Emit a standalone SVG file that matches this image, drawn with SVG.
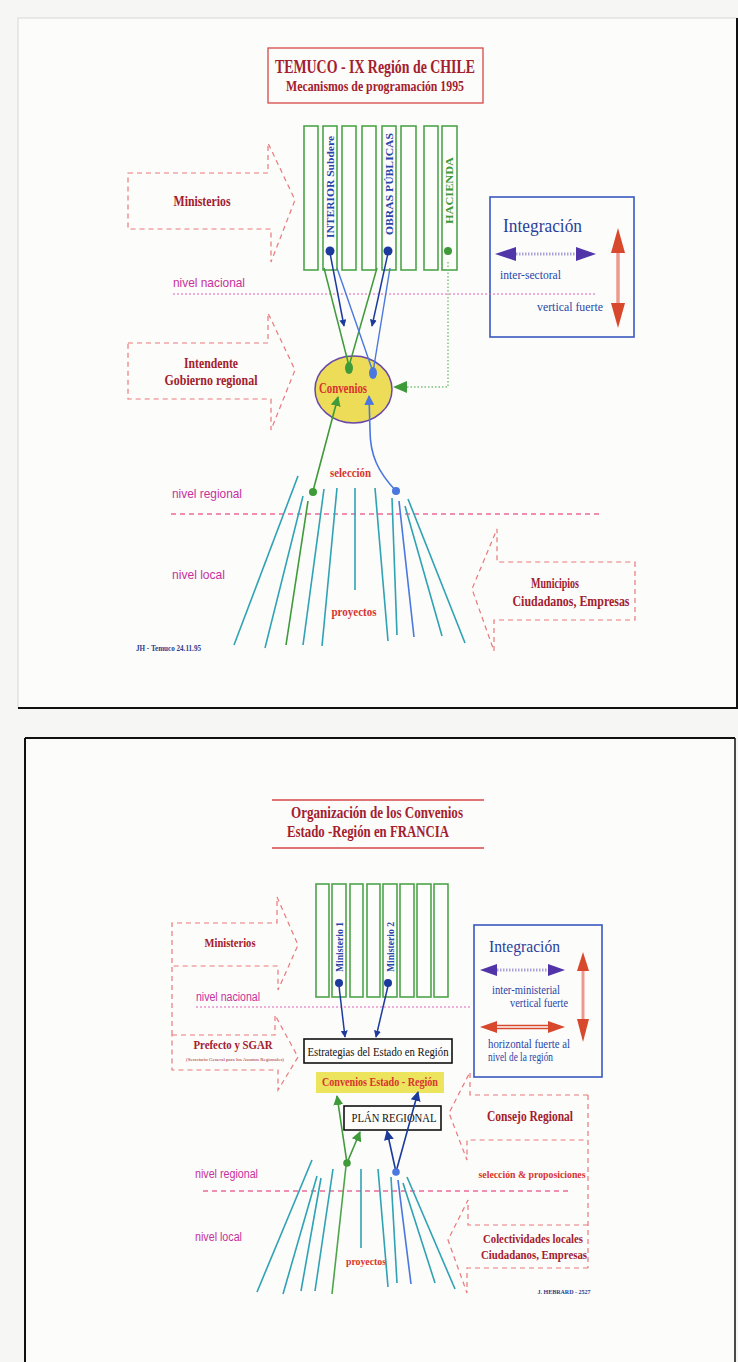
<svg xmlns="http://www.w3.org/2000/svg" width="738" height="1362" viewBox="0 0 738 1362">
<defs>
<style>
.serifb{font-family:"Liberation Serif","Times New Roman",serif;font-weight:bold}
.serif{font-family:"Liberation Serif","Times New Roman",serif}
.sans{font-family:"Liberation Sans",Arial,sans-serif}
.dred{fill:#a3202e}
.red{fill:#d8342e}
.mag{fill:#c8309c}
.blue{fill:#2846a8}
.col{fill:#fdfdfc;stroke:#4ea44a;stroke-width:1.6}
.dash{fill:none;stroke:#e9787a;stroke-width:1.2;stroke-dasharray:5 4}
.teal{stroke:#2fa2b4;stroke-width:1.6;fill:none}
.magline{stroke:#e060b8;stroke-width:1.2;stroke-dasharray:2 2;fill:none}
.pinkdash{stroke:#ec6a9a;stroke-width:1.3;stroke-dasharray:5 4;fill:none}
</style>
<marker id="agreen" viewBox="0 0 10 10" refX="9" refY="5" markerWidth="7" markerHeight="7" orient="auto" markerUnits="userSpaceOnUse"><path d="M0,0 L10,5 L0,10 Z" fill="#3f9a3a"/></marker>
<marker id="ablue" viewBox="0 0 10 10" refX="9" refY="5" markerWidth="10" markerHeight="10" orient="auto" markerUnits="userSpaceOnUse"><path d="M0,0 L10,5 L0,10 Z" fill="#4a78e0"/></marker>
<marker id="anavy" viewBox="0 0 10 10" refX="9" refY="5" markerWidth="7" markerHeight="7" orient="auto" markerUnits="userSpaceOnUse"><path d="M0,0 L10,5 L0,10 Z" fill="#1c3a9c"/></marker>
<marker id="agreenL" viewBox="0 0 10 10" refX="9" refY="5" markerWidth="10" markerHeight="12" orient="auto" markerUnits="userSpaceOnUse"><path d="M0,0 L10,5 L0,10 Z" fill="#3f9a3a"/></marker>
<marker id="anavyL" viewBox="0 0 10 10" refX="9" refY="5" markerWidth="10" markerHeight="12" orient="auto" markerUnits="userSpaceOnUse"><path d="M0,0 L10,5 L0,10 Z" fill="#1c3a9c"/></marker>
</defs>

<rect x="0" y="0" width="738" height="1362" fill="#f6f6f4"/>

<g id="page1">
<rect x="18" y="18" width="719" height="690" fill="#fcfcfb" stroke="#d8d8d8" stroke-width="1"/>
<line x1="18" y1="708" x2="738" y2="708" stroke="#111" stroke-width="2"/>
<line x1="737" y1="18" x2="737" y2="708" stroke="#111" stroke-width="2"/>
</g>

<g id="page2">
<rect x="25" y="738" width="710" height="640" fill="#fcfcfb"/>
<line x1="25" y1="738" x2="735" y2="738" stroke="#111" stroke-width="2"/>
<line x1="25" y1="738" x2="25" y2="1362" stroke="#111" stroke-width="2"/>
<line x1="735" y1="738" x2="735" y2="1362" stroke="#111" stroke-width="1.5"/>
</g>

<!-- ===================== TOP PANEL ===================== -->
<g id="title1">
<rect x="268" y="48" width="215" height="55" fill="none" stroke="#d84848" stroke-width="1.3"/>
<text x="375" y="73" text-anchor="middle" class="serifb dred" font-size="18" textLength="200" lengthAdjust="spacingAndGlyphs">TEMUCO - IX Región de CHILE</text>
<text x="375" y="91" text-anchor="middle" class="serifb dred" font-size="14.5" textLength="178" lengthAdjust="spacingAndGlyphs">Mecanismos de programación 1995</text>
</g>

<g id="columns1">
<rect class="col" x="304" y="126" width="14" height="144"/>
<rect class="col" x="323" y="126" width="14" height="144"/>
<rect class="col" x="342" y="126" width="14" height="144"/>
<rect class="col" x="362" y="126" width="14" height="144"/>
<rect class="col" x="382" y="126" width="14" height="144"/>
<rect class="col" x="401" y="126" width="15" height="144"/>
<rect class="col" x="424" y="126" width="14" height="144"/>
<rect class="col" x="442" y="126" width="15" height="144"/>
<text transform="translate(334,238) rotate(-90)" class="serifb blue" font-size="10.5" textLength="102" lengthAdjust="spacingAndGlyphs">INTERIOR Subdere</text>
<text transform="translate(393,235) rotate(-90)" class="serifb blue" font-size="10.5" textLength="102" lengthAdjust="spacingAndGlyphs">OBRAS PÚBLICAS</text>
<text transform="translate(453,224) rotate(-90)" class="serifb" fill="#3f9a3a" font-size="10.5" textLength="67" lengthAdjust="spacingAndGlyphs">HACIENDA</text>
<circle cx="330" cy="251" r="4.5" fill="#1c3a9c"/>
<circle cx="388" cy="251" r="4.5" fill="#1c3a9c"/>
<circle cx="448" cy="251" r="4" fill="#3f9a3a"/>
</g>

<g id="integracion1">
<rect x="490" y="197" width="144" height="140" fill="none" stroke="#3a58c0" stroke-width="1.6"/>
<text x="503" y="232" class="serif" fill="#2a3f9a" font-size="19" textLength="79" lengthAdjust="spacingAndGlyphs">Integración</text>
<line x1="516" y1="254" x2="576" y2="254" stroke="#a9a2d8" stroke-width="3" stroke-dasharray="1.5 1.5"/>
<path d="M495,254 L516,247 L516,261 Z" fill="#5034a8"/>
<path d="M596,254 L576,247 L576,261 Z" fill="#5034a8"/>
<text x="500" y="279" class="serif" fill="#2a46a8" font-size="13" textLength="61" lengthAdjust="spacingAndGlyphs">inter-sectoral</text>
<text x="537" y="311" class="serif" fill="#2a46a8" font-size="13" textLength="66" lengthAdjust="spacingAndGlyphs">vertical fuerte</text>
<line x1="618" y1="252" x2="618" y2="304" stroke="#ec9a90" stroke-width="3.5"/>
<path d="M618,228 L611,253 L625,253 Z" fill="#d8482c"/>
<path d="M618,328 L611,303 L625,303 Z" fill="#d8482c"/>
</g>

<g id="ministerios1">
<path class="dash" d="M128,173 H268 V143 L295,200 L271,262 V229 H128 Z"/>
<text x="202" y="206" text-anchor="middle" class="serifb dred" font-size="14.5" textLength="57" lengthAdjust="spacingAndGlyphs">Ministerios</text>
</g>

<g id="intendente1">
<path class="dash" d="M128,343 H268 V313 L295,370 L271,430 V399 H128 Z"/>
<text x="211" y="368" text-anchor="middle" class="serifb dred" font-size="14.5" textLength="54" lengthAdjust="spacingAndGlyphs">Intendente</text>
<text x="211" y="385" text-anchor="middle" class="serifb dred" font-size="14.5" textLength="93" lengthAdjust="spacingAndGlyphs">Gobierno regional</text>
</g>

<g id="niveles1">
<text x="173" y="287" class="sans mag" font-size="13" textLength="72" lengthAdjust="spacingAndGlyphs">nivel nacional</text>
<line class="magline" x1="173" y1="294" x2="596" y2="294"/>
<text x="172" y="498" class="sans mag" font-size="13" textLength="70" lengthAdjust="spacingAndGlyphs">nivel regional</text>
<line class="pinkdash" x1="171" y1="514" x2="599" y2="514"/>
<text x="172" y="579" class="sans mag" font-size="13" textLength="53" lengthAdjust="spacingAndGlyphs">nivel local</text>
</g>

<g id="convenios1">
<ellipse cx="353.5" cy="389.5" rx="38.5" ry="33.5" fill="#ecdc58" stroke="#6848a8" stroke-width="1.5"/>
<text x="343" y="393" text-anchor="middle" class="serifb red" font-size="14" textLength="48" lengthAdjust="spacingAndGlyphs">Convenios</text>
</g>

<g id="municipios1">
<path class="dash" d="M635,562 V620 H494 V651 L472,589 L497,529 V562 Z"/>
<text x="555" y="588" text-anchor="middle" class="serifb dred" font-size="15" textLength="48" lengthAdjust="spacingAndGlyphs">Municipios</text>
<text x="571" y="606" text-anchor="middle" class="serifb dred" font-size="15" textLength="117" lengthAdjust="spacingAndGlyphs">Ciudadanos, Empresas</text>
</g>

<g id="labels1">
<text x="350.5" y="477" text-anchor="middle" class="serifb red" font-size="13" textLength="41" lengthAdjust="spacingAndGlyphs">selección</text>
<text x="354" y="616" text-anchor="middle" class="serifb red" font-size="13" textLength="45" lengthAdjust="spacingAndGlyphs">proyectos</text>
<text x="136" y="651" class="serifb" fill="#283c90" font-size="7.5" textLength="65" lengthAdjust="spacingAndGlyphs">JH - Temuco 24.11.95</text>
</g>

<g id="connectors1">
<line x1="324" y1="268" x2="349" y2="366" stroke="#3f9a3a" stroke-width="1.5"/>
<line x1="377" y1="268" x2="349" y2="366" stroke="#3f9a3a" stroke-width="1.5"/>
<line x1="337" y1="268" x2="373" y2="372" stroke="#4a78e0" stroke-width="1.4"/>
<line x1="390" y1="268" x2="373" y2="372" stroke="#4a78e0" stroke-width="1.4"/>
<line x1="330" y1="253" x2="344" y2="326" stroke="#1c3a9c" stroke-width="1.5" marker-end="url(#anavy)"/>
<line x1="388" y1="253" x2="372" y2="326" stroke="#1c3a9c" stroke-width="1.5" marker-end="url(#anavy)"/>
<ellipse cx="349" cy="368" rx="4" ry="6" fill="#3f9a3a"/>
<ellipse cx="373" cy="373" rx="4" ry="6" fill="#4a78e0"/>
<path d="M448,262 V387 H405" fill="none" stroke="#7ac07a" stroke-width="1.4" stroke-dasharray="1.5 2"/>
<path d="M393,387 L407,381 L407,393 Z" fill="#3f9a3a"/>
<line x1="313" y1="491" x2="338" y2="397" stroke="#3f9a3a" stroke-width="1.6" marker-end="url(#agreenL)"/>
<path d="M396,491 C378,472 370,455 370,430 L369,396" fill="none" stroke="#4a78e0" stroke-width="1.6" marker-end="url(#ablue)"/>
<line class="teal" x1="298" y1="476" x2="234" y2="645"/>
<line class="teal" x1="303" y1="496" x2="265" y2="648"/>
<line x1="308" y1="501" x2="286" y2="645" stroke="#3f9a3a" stroke-width="1.6"/>
<line class="teal" x1="324" y1="489" x2="303" y2="645"/>
<line class="teal" x1="337" y1="488" x2="322" y2="646"/>
<line class="teal" x1="355" y1="488" x2="355" y2="590"/>
<line class="teal" x1="375" y1="488" x2="388" y2="641"/>
<line class="teal" x1="392" y1="498" x2="397" y2="635"/>
<line x1="399" y1="501" x2="414" y2="637" stroke="#4a78e0" stroke-width="1.6"/>
<line class="teal" x1="405" y1="506" x2="442" y2="636"/>
<line class="teal" x1="408" y1="499" x2="465" y2="643"/>
<circle cx="313" cy="492" r="4" fill="#3f9a3a"/>
<circle cx="396" cy="491" r="4" fill="#4a78e0"/>
</g>

<!-- ===================== BOTTOM PANEL ===================== -->
<g id="title2">
<line x1="272" y1="800" x2="484" y2="800" stroke="#d84848" stroke-width="1.3"/>
<line x1="272" y1="848" x2="484" y2="848" stroke="#d84848" stroke-width="1.3"/>
<text x="377" y="818" text-anchor="middle" class="serifb dred" font-size="16.5" textLength="172" lengthAdjust="spacingAndGlyphs">Organización de los Convenios</text>
<text x="368" y="837" text-anchor="middle" class="serifb dred" font-size="16.5" textLength="162" lengthAdjust="spacingAndGlyphs">Estado -Región en FRANCIA</text>
</g>

<g id="columns2">
<rect class="col" x="316" y="884" width="13" height="113"/>
<rect class="col" x="332" y="884" width="14" height="113"/>
<rect class="col" x="350" y="884" width="13" height="113"/>
<rect class="col" x="367" y="884" width="13" height="113"/>
<rect class="col" x="383" y="884" width="14" height="113"/>
<rect class="col" x="400" y="884" width="14" height="113"/>
<rect class="col" x="417" y="884" width="14" height="113"/>
<rect class="col" x="434" y="884" width="14" height="113"/>
<text transform="translate(342.5,972) rotate(-90)" class="serifb blue" font-size="9.5" textLength="50" lengthAdjust="spacingAndGlyphs">Ministerio 1</text>
<text transform="translate(393.5,972) rotate(-90)" class="serifb blue" font-size="9.5" textLength="50" lengthAdjust="spacingAndGlyphs">Ministerio 2</text>
<circle cx="339" cy="983" r="4" fill="#1c3a9c"/>
<circle cx="388" cy="983" r="4" fill="#1c3a9c"/>
</g>

<g id="integracion2">
<rect x="474" y="925" width="128" height="152" fill="none" stroke="#3a58c0" stroke-width="1.6"/>
<text x="489" y="952" class="serif" fill="#2a3f9a" font-size="17" textLength="71" lengthAdjust="spacingAndGlyphs">Integración</text>
<line x1="497" y1="970" x2="548" y2="970" stroke="#a9a2d8" stroke-width="3" stroke-dasharray="1.5 1.5"/>
<path d="M480,970 L497,964 L497,976 Z" fill="#5034a8"/>
<path d="M565,970 L548,964 L548,976 Z" fill="#5034a8"/>
<text x="492" y="994" class="serif" fill="#2a46a8" font-size="12" textLength="68" lengthAdjust="spacingAndGlyphs">inter-ministerial</text>
<text x="510" y="1007" class="serif" fill="#2a46a8" font-size="12" textLength="58" lengthAdjust="spacingAndGlyphs">vertical fuerte</text>
<line x1="496" y1="1025.5" x2="549" y2="1025.5" stroke="#d8482c" stroke-width="1.3"/>
<line x1="496" y1="1028.5" x2="549" y2="1028.5" stroke="#d8482c" stroke-width="1.3"/>
<path d="M480,1027 L497,1021 L497,1033 Z" fill="#d8482c"/>
<path d="M565,1027 L548,1021 L548,1033 Z" fill="#d8482c"/>
<text x="488" y="1048" class="serif" fill="#2a46a8" font-size="12" textLength="82" lengthAdjust="spacingAndGlyphs">horizontal fuerte al</text>
<text x="488" y="1061" class="serif" fill="#2a46a8" font-size="12" textLength="65" lengthAdjust="spacingAndGlyphs">nivel de la región</text>
<line x1="583" y1="968" x2="583" y2="1022" stroke="#ec9a90" stroke-width="3"/>
<path d="M583,952 L577,971 L589,971 Z" fill="#d8482c"/>
<path d="M583,1042 L577,1019 L589,1019 Z" fill="#d8482c"/>
</g>

<g id="ministerios2">
<path class="dash" d="M172,1035 V923 H277 V897 L298,945 L278,990 V966 H172"/>
<text x="230" y="947" text-anchor="middle" class="serifb dred" font-size="13.5" textLength="51" lengthAdjust="spacingAndGlyphs">Ministerios</text>
</g>

<g id="prefecto2">
<path class="dash" d="M172,1035 H275 V1015 L298,1057 L278,1090 V1070 H172 V1035"/>
<text x="233" y="1049" text-anchor="middle" class="serifb dred" font-size="13.5" textLength="79" lengthAdjust="spacingAndGlyphs">Prefecto y SGAR</text>
<text x="235" y="1061" text-anchor="middle" class="serif dred" font-size="4.5" textLength="98" lengthAdjust="spacingAndGlyphs">(Secretario General para los Asuntos Regionales)</text>
</g>

<g id="niveles2">
<text x="196" y="1001" class="sans mag" font-size="12" textLength="64" lengthAdjust="spacingAndGlyphs">nivel nacional</text>
<line class="magline" x1="196" y1="1007" x2="470" y2="1007"/>
<text x="195" y="1178" class="sans mag" font-size="12" textLength="63" lengthAdjust="spacingAndGlyphs">nivel regional</text>
<line class="pinkdash" x1="203" y1="1191" x2="570" y2="1191"/>
<text x="195" y="1241" class="sans mag" font-size="12" textLength="47" lengthAdjust="spacingAndGlyphs">nivel local</text>
</g>

<g id="estrategias2">
<rect x="304" y="1039" width="148" height="24" fill="#fdfdfc" stroke="#111" stroke-width="1.6"/>
<text x="378" y="1056" text-anchor="middle" class="serif" fill="#111" font-size="13" textLength="141" lengthAdjust="spacingAndGlyphs">Estrategias del Estado en Región</text>
</g>

<g id="convenios2">
<rect x="316" y="1072" width="128" height="21" fill="#ece45c"/>
<text x="380" y="1086" text-anchor="middle" class="serifb red" font-size="11.5" textLength="116" lengthAdjust="spacingAndGlyphs">Convenios  Estado  - Región</text>
</g>

<g id="plan2">
<rect x="344" y="1106" width="97" height="24" fill="#fdfdfc" stroke="#111" stroke-width="1.6"/>
<text x="394" y="1122" text-anchor="middle" class="serif" fill="#111" font-size="13" textLength="85" lengthAdjust="spacingAndGlyphs">PLÁN REGIONAL</text>
</g>

<g id="consejo2">
<path class="dash" d="M588,1095 H470 V1072 L449,1113 L467,1160 V1140 H588"/>
<path class="dash" d="M588,1095 V1268"/>
<text x="530" y="1121" text-anchor="middle" class="serifb dred" font-size="14" textLength="86" lengthAdjust="spacingAndGlyphs">Consejo Regional</text>
<text x="532" y="1178" text-anchor="middle" class="serifb red" font-size="10.5" textLength="107" lengthAdjust="spacingAndGlyphs">selección &amp; proposiciones</text>
</g>

<g id="colectividades2">
<path class="dash" d="M588,1225 H468 V1200 L448,1240 L467,1293 V1268 H588"/>
<text x="533" y="1243" text-anchor="middle" class="serifb dred" font-size="13.5" textLength="100" lengthAdjust="spacingAndGlyphs">Colectividades locales</text>
<text x="534" y="1259" text-anchor="middle" class="serifb dred" font-size="13.5" textLength="106" lengthAdjust="spacingAndGlyphs">Ciudadanos, Empresas</text>
</g>

<g id="labels2">
<text x="366" y="1265" text-anchor="middle" class="serifb red" font-size="11" textLength="40" lengthAdjust="spacingAndGlyphs">proyectos</text>
<text x="564" y="1294" text-anchor="middle" class="serifb" fill="#283c90" font-size="6.5" textLength="53" lengthAdjust="spacingAndGlyphs">J. HEBRARD - 2527</text>
</g>

<g id="connectors2">
<line x1="339" y1="986" x2="345" y2="1037" stroke="#1c3a9c" stroke-width="1.5" marker-end="url(#anavy)"/>
<line x1="388" y1="986" x2="376" y2="1037" stroke="#1c3a9c" stroke-width="1.5" marker-end="url(#anavy)"/>
<line x1="347" y1="1163" x2="337" y2="1096" stroke="#3f9a3a" stroke-width="1.6" marker-end="url(#agreenL)"/>
<line x1="347" y1="1163" x2="360" y2="1132" stroke="#3f9a3a" stroke-width="1.6" marker-end="url(#agreenL)"/>
<line x1="396" y1="1172" x2="387" y2="1131" stroke="#1c3a9c" stroke-width="1.6" marker-end="url(#anavyL)"/>
<line x1="396" y1="1172" x2="418" y2="1092" stroke="#1c3a9c" stroke-width="1.6" marker-end="url(#anavyL)"/>
<line class="teal" x1="312" y1="1160" x2="257" y2="1292"/>
<line class="teal" x1="317" y1="1176" x2="283" y2="1294"/>
<line class="teal" x1="321" y1="1178" x2="301" y2="1291"/>
<line class="teal" x1="333" y1="1169" x2="315" y2="1291"/>
<line x1="346" y1="1166" x2="332" y2="1294" stroke="#4ea44a" stroke-width="1.6"/>
<line class="teal" x1="361" y1="1169" x2="361" y2="1248"/>
<line class="teal" x1="378" y1="1169" x2="388" y2="1287"/>
<line class="teal" x1="391" y1="1177" x2="397" y2="1283"/>
<line x1="398" y1="1180" x2="411" y2="1284" stroke="#4a78e0" stroke-width="1.6"/>
<line class="teal" x1="403" y1="1183" x2="435" y2="1283"/>
<line class="teal" x1="407" y1="1177" x2="455" y2="1289"/>
<circle cx="347" cy="1163" r="3.8" fill="#3f9a3a"/>
<circle cx="396" cy="1172" r="3.8" fill="#4a78e0"/>
</g>
</svg>
